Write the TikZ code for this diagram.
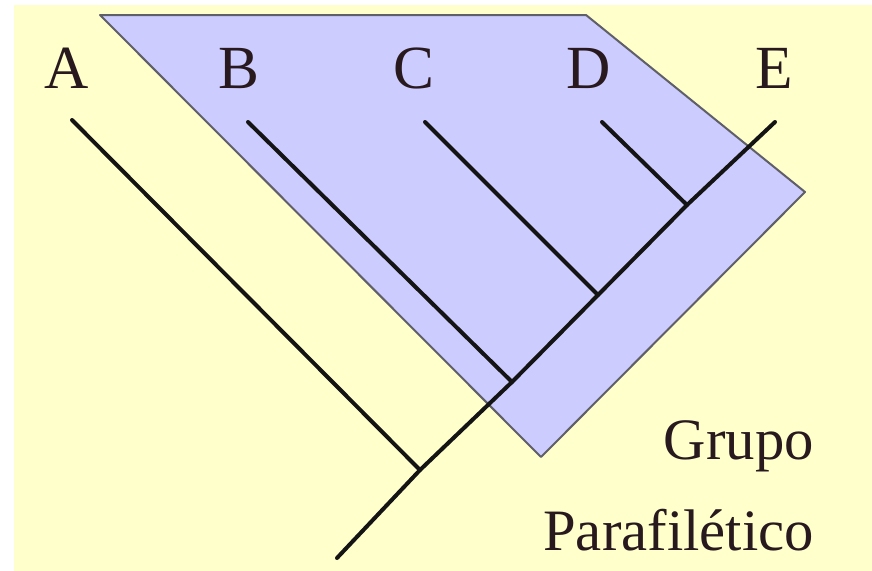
\documentclass[tikz,border=0pt]{standalone}
\usepackage{fontspec}
\setmainfont{Liberation Serif}
\definecolor{fondo}{RGB}{255,255,204}
\definecolor{grupo}{RGB}{204,204,255}
\definecolor{borde}{RGB}{95,95,105}
\definecolor{texto}{RGB}{40,25,30}

\begin{document}
\begin{tikzpicture}[
  x=0.75pt,y=-0.75pt,
  taxon/.style={anchor=base,inner sep=0pt,font=\fontsize{46}{50}\selectfont,text=texto},
  rama/.style={line width=3pt,black!92,line cap=round,line join=round},
]
  \useasboundingbox (0,0) rectangle (872,571);
  \fill[fondo] (14,5) rectangle (872,571);

  % paraphyletic group
  \filldraw[fill=grupo,draw=borde,line width=1.5pt,line join=round]
    (100,15) -- (586,15) -- (805,192) -- (541,457) -- cycle;

  % taxa
  \node[taxon] (A) at (67,88) {A};
  \node[taxon] (B) at (239,88) {B};
  \node[taxon] (C) at (414,88) {C};
  \node[taxon] (D) at (589,88) {D};
  \node[taxon] (E) at (774,88) {E};

  % tips, nodes and root of the tree
  \coordinate (tA) at (72,120);
  \coordinate (tB) at (248,122);
  \coordinate (tC) at (425,122);
  \coordinate (tD) at (602,122);
  \coordinate (tE) at (775,122);
  \coordinate (jA) at (420,470);
  \coordinate (jB) at (512,382);
  \coordinate (jC) at (598,295);
  \coordinate (jD) at (687,205);
  \coordinate (raiz) at (337,558);

  \draw[rama] (raiz) -- (jA) -- (jB) -- (jC) -- (jD) -- (tE);
  \draw[rama] (tA) -- (jA);
  \draw[rama] (tB) -- (jB);
  \draw[rama] (tC) -- (jC);
  \draw[rama] (tD) -- (jD);

  \node[anchor=base east,inner sep=0pt,align=right,text=texto,
        font=\fontsize{44}{68}\selectfont] (nombre) at (814,550)
    {Grupo\\Parafilético};
\end{tikzpicture}
\end{document}
